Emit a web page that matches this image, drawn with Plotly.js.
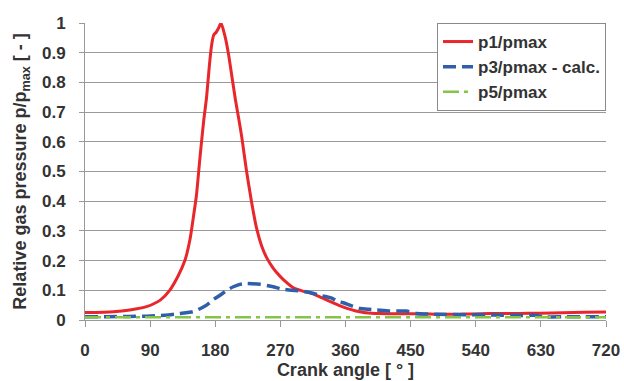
<!DOCTYPE html>
<html>
<head>
<meta charset="utf-8">
<script src="https://cdn.plot.ly/plotly-3.0.1.min.js"></script>
<style>html,body{margin:0;padding:0;background:#fff;}#chart{width:624px;height:381px;}</style>
</head>
<body>
<div id="chart"></div>
<script>
// Crank angle [deg] and relative pressures
const p1Angle = [0, 39, 62, 85, 104, 117, 129, 138, 145, 150, 154, 159, 164, 168, 172, 175, 178, 181, 185, 188, 193, 198, 203, 208, 213, 217, 223, 230, 237, 244, 251, 260, 270, 280, 288, 300, 315, 327, 339, 350, 362, 373, 385, 396, 408, 430, 454, 477, 500, 523, 546, 573, 600, 630, 660, 690, 720];
const p1Val   = [0.025, 0.028, 0.034, 0.045, 0.067, 0.10, 0.15, 0.20, 0.27, 0.35, 0.42, 0.55, 0.67, 0.75, 0.86, 0.926, 0.96, 0.968, 0.985, 1.0, 0.96, 0.90, 0.82, 0.74, 0.67, 0.61, 0.505, 0.40, 0.31, 0.25, 0.21, 0.175, 0.146, 0.123, 0.108, 0.098, 0.088, 0.075, 0.062, 0.05, 0.039, 0.031, 0.025, 0.023, 0.022, 0.021, 0.021, 0.02, 0.019, 0.02, 0.021, 0.022, 0.022, 0.023, 0.024, 0.026, 0.027];

const p3Angle = [0, 30, 60, 85, 110, 131, 149, 159, 168, 177, 187, 196, 205, 214, 223, 242, 260, 270, 285, 297, 315, 326, 334, 341, 348, 357, 366, 373, 380, 392, 403, 421, 444, 452, 458, 486, 527, 564, 601, 620, 638, 660, 690, 720];
const p3Val   = [0.011, 0.011, 0.012, 0.013, 0.016, 0.022, 0.028, 0.038, 0.05, 0.068, 0.084, 0.10, 0.112, 0.12, 0.123, 0.12, 0.112, 0.105, 0.1, 0.098, 0.09, 0.082, 0.078, 0.074, 0.064, 0.058, 0.05, 0.044, 0.039, 0.036, 0.034, 0.03, 0.03, 0.026, 0.022, 0.019, 0.018, 0.017, 0.015, 0.016, 0.01, 0.011, 0.011, 0.011];

const p5Angle = [0, 90, 180, 270, 360, 450, 540, 630, 720];
const p5Val   = [0.009, 0.009, 0.009, 0.009, 0.009, 0.009, 0.009, 0.009, 0.009];

const xTicks = [0, 90, 180, 270, 360, 450, 540, 630, 720];
const yTicks = [0, 0.1, 0.2, 0.3, 0.4, 0.5, 0.6, 0.7, 0.8, 0.9, 1];
const yTickText = ['0', '0.1', '0.2', '0.3', '0.4', '0.5', '0.6', '0.7', '0.8', '0.9', '1'];

const fam = '"Liberation Sans", Arial, sans-serif';
const tickFont = {family: fam, size: 17, color: '#333333', weight: 'bold'};
const titleFont = {family: fam, size: 18, color: '#333333', weight: 'bold'};

const traces = [
  {x: p1Angle, y: p1Val, name: 'p1/pmax', mode: 'lines',
   line: {color: '#e8262b', width: 3, shape: 'spline', smoothing: 0.6}},
  {x: p3Angle, y: p3Val, name: 'p3/pmax - calc.', mode: 'lines',
   line: {color: '#2f5fab', width: 3.5, dash: '13px,6px', shape: 'spline', smoothing: 0.5}},
  {x: p5Angle, y: p5Val, name: 'p5/pmax', mode: 'lines',
   line: {color: '#84c447', width: 2.5, dash: '16px,5px,4px,5px'}}
];

const layout = {
  width: 624, height: 381,
  margin: {l: 85, r: 18, t: 23, b: 61},
  paper_bgcolor: '#ffffff', plot_bgcolor: '#ffffff',
  font: tickFont,
  showlegend: true,
  legend: {x: 1.0, y: 1.0, xanchor: 'right', yanchor: 'top',
           bgcolor: '#ffffff', bordercolor: '#8a8a8a', borderwidth: 1,
           font: {family: fam, size: 17, color: '#333333', weight: 'bold'},
           tracegroupgap: 0, itemwidth: 30},
  xaxis: {range: [0, 720], tickvals: xTicks, ticks: 'outside', ticklen: 6, tickcolor: '#999999',
          showline: true, linecolor: '#999999', linewidth: 1, showgrid: false, zeroline: false,
          tickfont: tickFont, ticklabelstandoff: 9,
          title: {text: 'Crank angle [ ° ]', font: titleFont, standoff: 2}},
  yaxis: {range: [0, 1], tickvals: yTicks, ticktext: yTickText, ticks: 'outside', ticklen: 5, tickcolor: '#999999',
          showline: true, linecolor: '#999999', linewidth: 1, showgrid: true, gridcolor: '#9a9a9a', gridwidth: 1,
          zeroline: false, tickfont: tickFont, ticklabelstandoff: 10,
          title: {text: 'Relative gas pressure p/p<sub>max</sub> [ - ]', font: titleFont, standoff: 10}}
};

Plotly.newPlot('chart', traces, layout, {displayModeBar: false, staticPlot: true});
</script>
</body>
</html>
